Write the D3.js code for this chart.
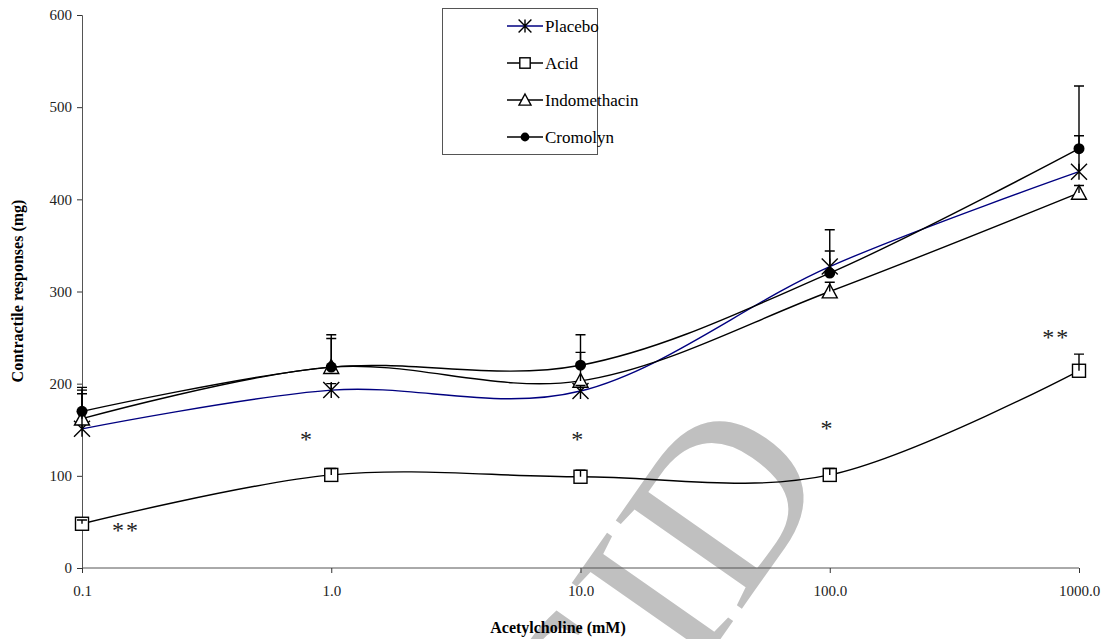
<!DOCTYPE html>
<html><head><meta charset="utf-8">
<script src="https://cdn.jsdelivr.net/npm/d3@7/dist/d3.min.js"></script>
<style>body{margin:0;background:#fff}svg{display:block}text{font-family:"Liberation Serif","Times New Roman",serif}</style>
</head><body>
<script>
const doses = [0.1, 1, 10, 100, 1000];
const xTickLabels = ["0.1", "1.0", "10.0", "100.0", "1000.0"];
const yTicks = [0, 100, 200, 300, 400, 500, 600];
const seriesNames = ["Placebo", "Acid", "Indomethacin", "Cromolyn"];
const placebo = [151, 193, 192, 327, 430];
const placeboErr = [189, 200, 198, 344, 469];
const acid = [48, 101, 99, 101, 214];
const acidErr = [52, 108, 106, 108, 232];
const indomethacin = [162, 218, 203, 300, 407];
const indomethacinErr = [193, 249, 234, 310, 415];
const cromolyn = [170, 218, 220, 320, 455];
const cromolynErr = [196, 253, 253, 367, 523];
const annotations = [
  {x: 0.15, y: 41, t: "**"},
  {x: 0.8, y: 140, t: "*"},
  {x: 9.8, y: 140, t: "*"},
  {x: 98, y: 152, t: "*"},
  {x: 810, y: 251, t: "**"}
];

const W = 1107, H = 639;
const svg = d3.select("body").append("svg").attr("width", W).attr("height", H);
const x = d3.scaleLog().domain([0.1, 1000]).range([82, 1079]);
const y = d3.scaleLinear().domain([0, 600]).range([568, 15]);

// watermark
svg.append("text").attr("transform", "translate(662,585) rotate(-55)")
  .attr("text-anchor", "middle").attr("dominant-baseline", "central")
  .attr("font-size", 235).attr("fill", "#c0c0c0").text("SID");

// axes
const yAxis = d3.axisLeft(y).tickValues(yTicks).tickSize(5).tickFormat(d3.format("d"));
const gy = svg.append("g").attr("transform", "translate(82,0)").call(yAxis);
gy.select(".domain").attr("stroke", "#555");
gy.selectAll(".tick line").attr("stroke", "#333");
gy.selectAll(".tick text").attr("font-family", "Liberation Serif").attr("font-size", 15).attr("fill", "#222").attr("x", -10);

const xAxis = d3.axisBottom(x).tickValues(doses).tickSize(5).tickFormat((d, i) => xTickLabels[i]);
const gx = svg.append("g").attr("transform", "translate(0,568)").call(xAxis);
gx.select(".domain").attr("stroke", "#555").attr("d", "M82,0H1079");
gx.selectAll(".tick line").attr("stroke", "#333");
gx.selectAll(".tick text").attr("font-family", "Liberation Serif").attr("font-size", 15).attr("fill", "#222").attr("y", 17);

svg.append("text").attr("x", 558).attr("y", 633).attr("text-anchor", "middle")
  .attr("font-size", 16).attr("font-weight", "bold").text("Acetylcholine (mM)");
svg.append("text").attr("transform", "translate(23,291) rotate(-90)").attr("text-anchor", "middle")
  .attr("font-size", 16).attr("font-weight", "bold").text("Contractile responses (mg)");

const series = [
  {name: seriesNames[0], v: placebo, e: placeboErr, color: "#000080", marker: "star"},
  {name: seriesNames[1], v: acid, e: acidErr, color: "#000", marker: "square"},
  {name: seriesNames[2], v: indomethacin, e: indomethacinErr, color: "#000", marker: "triangle"},
  {name: seriesNames[3], v: cromolyn, e: cromolynErr, color: "#000", marker: "circle"}
];

const line = d3.line().x((d, i) => x(doses[i])).y(d => y(d)).curve(d3.curveCardinal.tension(0));

function drawMarker(g, type, cx, cy, s) {
  if (type === "star") {
    const a = 8 * s;
    g.append("path").attr("d", `M${cx - a},${cy - a}L${cx + a},${cy + a}M${cx - a},${cy + a}L${cx + a},${cy - a}M${cx},${cy - a}L${cx},${cy + a}`)
      .attr("stroke", "#000").attr("stroke-width", 1.4).attr("fill", "none");
  } else if (type === "square") {
    const a = 6.5 * s;
    g.append("rect").attr("x", cx - a).attr("y", cy - a).attr("width", 2 * a).attr("height", 2 * a)
      .attr("fill", "#fff").attr("stroke", "#000").attr("stroke-width", 1.4);
  } else if (type === "triangle") {
    const a = 7.5 * s;
    g.append("path").attr("d", `M${cx},${cy - a}L${cx + a},${cy + a * 0.85}L${cx - a},${cy + a * 0.85}Z`)
      .attr("fill", "#fff").attr("stroke", "#000").attr("stroke-width", 1.4);
  } else {
    g.append("circle").attr("cx", cx).attr("cy", cy).attr("r", 5.5 * s).attr("fill", "#000");
  }
}

const gLines = svg.append("g");
series.forEach(s => {
  gLines.append("path").attr("d", line(s.v)).attr("fill", "none").attr("stroke", s.color).attr("stroke-width", 1.4);
});
const gMarks = svg.append("g");
series.forEach(s => {
  s.v.forEach((v, i) => drawMarker(gMarks, s.marker, x(doses[i]), y(v), 1));
});
const gErr = svg.append("g");
series.forEach(s => {
  s.v.forEach((v, i) => {
    const cx = x(doses[i]), y0 = y(v), y1 = y(s.e[i]);
    gErr.append("path").attr("d", `M${cx},${y0}L${cx},${y1}M${cx - 5},${y1}L${cx + 5},${y1}`)
      .attr("stroke", "#000").attr("stroke-width", 1.4).attr("fill", "none");
  });
});

// significance marks (y is glyph centre)
svg.append("g").selectAll("text").data(annotations).join("text")
  .attr("x", d => x(d.x)).attr("y", d => y(d.y) + 8).attr("text-anchor", "middle")
  .attr("font-size", 24).attr("fill", "#222")
  .attr("letter-spacing", 2).text(d => d.t);

// legend
const lg = svg.append("g");
lg.append("rect").attr("x", 442.5).attr("y", 8.5).attr("width", 155).attr("height", 146)
  .attr("fill", "#fff").attr("stroke", "#555").attr("stroke-width", 1);
series.forEach((s, i) => {
  const yy = 26 + i * 37;
  lg.append("line").attr("x1", 507).attr("x2", 543).attr("y1", yy).attr("y2", yy)
    .attr("stroke", s.color).attr("stroke-width", 1.4);
  drawMarker(lg, s.marker, 525, yy, 0.8);
  lg.append("text").attr("x", 545).attr("y", yy).attr("dominant-baseline", "central")
    .attr("font-size", 17).text(s.name);
});
</script>
</body></html>
